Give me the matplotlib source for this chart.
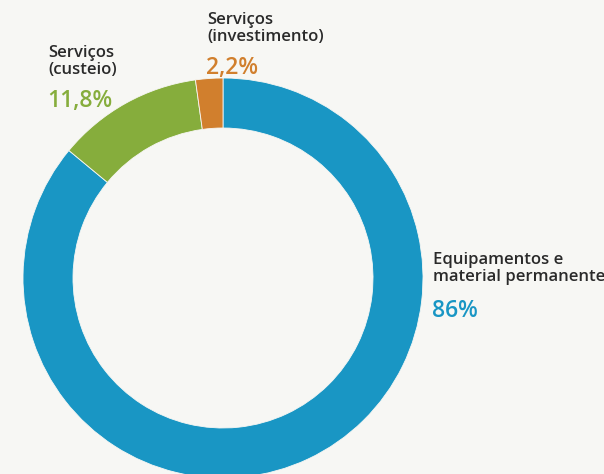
import matplotlib
matplotlib.use("Agg")
import matplotlib.pyplot as plt

# data
categories = ["Equipamentos e\nmaterial permanente", "Serviços\n(custeio)", "Serviços\n(investimento)"]
values = [86, 11.8, 2.2]
pct_labels = ["86%", "11,8%", "2,2%"]
colors = ["#1996c4", "#86ad3c", "#d17f2d"]

W, H = 604, 474
bg = "#f7f7f4"

fig = plt.figure(figsize = (W / 100, H / 100), dpi = 100, facecolor = bg)
ax = fig.add_axes([0, 0, 1, 1])
ax.set_facecolor(bg)

cx, cy, R, r = 223, H - 278, 200, 150
ax.pie(values, colors = colors, startangle = 90, counterclock = False,
    center = (cx, cy), radius = R,
    wedgeprops = {"width" : R - r, "edgecolor" : bg, "linewidth" : 0.6}
)
ax.set_xlim(0, W)
ax.set_ylim(0, H)
ax.axis("off")

# label positions (pixel, from top)
label_pos = [(433, 252), (48, 45), (207, 12)]
pct_gap = [47, 44, 44]
for cat, pct, col, (px, py), g in zip(categories, pct_labels, colors, label_pos, pct_gap) :
    ax.text(px, H - py, cat, ha = "left", va = "top", fontsize = 12,
        family = "Open Sans", weight = "semibold", color = "#2a2a2a",
        linespacing = 1.12)
    ax.text(px - 1, H - py - g, pct, ha = "left", va = "top", fontsize = 16.5,
        family = "Open Sans", weight = "semibold", color = col)

fig.savefig("out.png", dpi = 100, facecolor = bg)
